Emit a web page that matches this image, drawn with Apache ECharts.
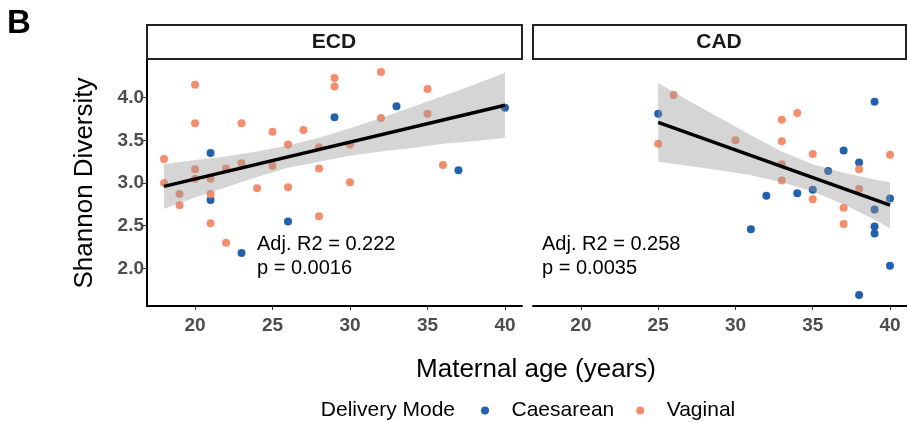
<!DOCTYPE html>
<html>
<head>
<meta charset="utf-8">
<script src="https://cdn.jsdelivr.net/npm/echarts@6/dist/echarts.min.js"></script>
<style>
html, body { margin: 0; padding: 0; background: #fff; }
#chart { width: 907px; height: 422px; }
</style>
</head>
<body>
<div id="chart"></div>
<script>
// ECD panel
var ecdVagAge = [18, 18, 19, 19, 20, 20, 20, 20, 21, 21, 21, 22, 22, 23, 23, 24, 25, 25, 26, 26, 27, 28, 28, 28, 29, 29, 30, 30, 32, 32, 35, 35, 36];
var ecdVagDiv = [3.28, 3.00, 2.87, 2.74, 4.15, 3.70, 3.16, 3.05, 3.05, 2.87, 2.53, 3.17, 2.30, 3.70, 3.23, 2.94, 3.60, 3.20, 3.45, 2.95, 3.62, 3.42, 3.17, 2.61, 4.23, 4.13, 3.45, 3.01, 4.30, 3.76, 4.10, 3.81, 3.21];
var ecdCaeAge = [21, 21, 23, 26, 29, 33, 37, 40];
var ecdCaeDiv = [3.35, 2.80, 2.18, 2.55, 3.77, 3.90, 3.15, 3.88];
var ecdFitAge = [18, 40];
var ecdFitDiv = [2.96, 3.91];
var ecdBandAge = [18, 20, 22, 24, 26, 28, 30, 32, 34, 36, 38, 40];
var ecdBandLow = [2.70, 2.83, 2.95, 3.07, 3.18, 3.25, 3.32, 3.37, 3.41, 3.46, 3.49, 3.53];
var ecdBandHigh = [3.22, 3.27, 3.31, 3.37, 3.44, 3.53, 3.64, 3.76, 3.89, 4.02, 4.15, 4.29];

// CAD panel
var cadCaeAge = [25, 39, 37, 38, 36, 35, 34, 32, 40, 39, 31, 39, 39, 40, 38];
var cadCaeDiv = [3.81, 3.95, 3.38, 3.24, 3.14, 2.92, 2.88, 2.85, 2.82, 2.69, 2.46, 2.49, 2.41, 2.03, 1.69];
var cadVagAge = [26, 25, 30, 33, 34, 33, 33, 33, 35, 35, 37, 37, 38, 38, 40];
var cadVagDiv = [4.03, 3.46, 3.50, 3.74, 3.82, 3.49, 3.22, 3.03, 3.34, 2.81, 2.71, 2.52, 3.16, 2.93, 3.33];
var cadFitAge = [25, 40];
var cadFitDiv = [3.71, 2.74];
var cadBandAge = [25, 27, 29, 31, 33, 35, 37, 39, 40];
var cadBandLow = [3.25, 3.20, 3.15, 3.09, 3.01, 2.90, 2.75, 2.57, 2.47];
var cadBandHigh = [4.17, 3.96, 3.76, 3.56, 3.37, 3.22, 3.12, 3.04, 3.01];

var xTicks = [20, 25, 30, 35, 40];
var yTicks = [2.0, 2.5, 3.0, 3.5, 4.0];
var panelNames = ['ECD', 'CAD'];
var statText = ['Adj. R2 = 0.222\np = 0.0016', 'Adj. R2 = 0.258\np = 0.0035'];

var BLUE = '#2161ad';
var SALMON = '#f48d6c';
var FONT = 'Liberation Sans, Arial, sans-serif';

var zip = function(a, b) {
	return a.map(function(v, i) { return [v, b[i]]; });
};

var scatter = function(name, idx, ages, divs, color) {
	return {
		name: name,
		type: 'scatter',
		xAxisIndex: idx,
		yAxisIndex: idx,
		symbolSize: 8,
		itemStyle: { color: color, opacity: 1 },
		z: 2,
		data: zip(ages, divs)
	};
};

// 置信区间带
var band = function(idx, ages, low, high) {
	return {
		type: 'custom',
		xAxisIndex: idx,
		yAxisIndex: idx,
		z: 3,
		silent: true,
		data: [[ages[0], low[0]]],
		renderItem: function(params, api) {
			var pts = [];
			for (var i = 0; i < ages.length; i++) pts.push(api.coord([ages[i], high[i]]));
			for (var j = ages.length - 1; j >= 0; j--) pts.push(api.coord([ages[j], low[j]]));
			return {
				type: 'polygon',
				shape: { points: pts },
				style: { fill: 'rgba(150,150,150,0.4)', stroke: null }
			};
		}
	};
};

var fit = function(idx, ages, divs) {
	return {
		type: 'line',
		xAxisIndex: idx,
		yAxisIndex: idx,
		z: 4,
		symbol: 'none',
		silent: true,
		lineStyle: { color: '#000', width: 3.5 },
		data: zip(ages, divs)
	};
};

var xAxisFor = function(idx) {
	return {
		type: 'value',
		gridIndex: idx,
		min: 16.9,
		max: 41.1,
		splitLine: { show: false },
		axisLine: { show: true, onZero: false, lineStyle: { color: '#000', width: 2 } },
		axisTick: { show: true, customValues: xTicks, length: 4, lineStyle: { color: '#333' } },
		axisLabel: {
			customValues: xTicks, margin: 10,
			color: '#4d4d4d', fontWeight: 'bold', fontSize: 19, fontFamily: FONT
		}
	};
};

var chart = echarts.init(document.getElementById('chart'));

var option = {
	animation: false,
	textStyle: { fontFamily: FONT },
	grid: [
		{ left: 147, top: 60, width: 375, height: 246 },
		{ left: 533, top: 60, width: 374, height: 246 }
	],
	xAxis: [xAxisFor(0), xAxisFor(1)],
	yAxis: [{
		type: 'value',
		gridIndex: 0,
		min: 1.56,
		max: 4.44,
		name: 'Shannon Diversity',
		nameLocation: 'middle',
		nameGap: 49,
		nameTextStyle: { fontSize: 26, color: '#000', fontFamily: FONT },
		splitLine: { show: false },
		axisLine: { show: true, lineStyle: { color: '#000', width: 2 } },
		axisTick: { show: true, customValues: yTicks, length: 5, lineStyle: { color: '#333' } },
		axisLabel: {
			customValues: yTicks, margin: 3,
			color: '#4d4d4d', fontWeight: 'bold', fontSize: 19, fontFamily: FONT,
			formatter: function(v) { return v.toFixed(1); }
		}
	}, {
		type: 'value',
		gridIndex: 1,
		min: 1.56,
		max: 4.44,
		splitLine: { show: false },
		axisLine: { show: false },
		axisTick: { show: false },
		axisLabel: { show: false }
	}],
	legend: {
		data: ['Caesarean', 'Vaginal'],
		left: 476,
		top: 395,
		icon: 'circle',
		itemWidth: 8,
		itemHeight: 8,
		itemGap: 22,
		formatter: function(name) { return '   ' + name; },
		textStyle: { fontSize: 21, color: '#000', fontFamily: FONT }
	},
	graphic: [
		{ type: 'text', left: 7, top: 7, style: { text: 'B', fontSize: 33, fontWeight: 'bold', fill: '#000', fontFamily: FONT } },
		{ type: 'rect', shape: { x: 147, y: 25, width: 375, height: 34 }, style: { fill: '#fff', stroke: '#222', lineWidth: 2 } },
		{ type: 'rect', shape: { x: 533, y: 25, width: 373, height: 34 }, style: { fill: '#fff', stroke: '#222', lineWidth: 2 } },
		{ type: 'text', x: 334, y: 42, style: { text: panelNames[0], fontSize: 21, fontWeight: 'bold', fill: '#1a1a1a', align: 'center', verticalAlign: 'middle', fontFamily: FONT } },
		{ type: 'text', x: 719, y: 42, style: { text: panelNames[1], fontSize: 21, fontWeight: 'bold', fill: '#1a1a1a', align: 'center', verticalAlign: 'middle', fontFamily: FONT } },
		{ type: 'text', x: 257, y: 232, z: 10, style: { text: statText[0], fontSize: 20, lineHeight: 24, fill: '#000', fontFamily: FONT } },
		{ type: 'text', x: 542, y: 232, z: 10, style: { text: statText[1], fontSize: 20, lineHeight: 24, fill: '#000', fontFamily: FONT } },
		{ type: 'text', x: 536, y: 370, style: { text: 'Maternal age (years)', fontSize: 26, fill: '#000', align: 'center', verticalAlign: 'middle', fontFamily: FONT } },
		{ type: 'text', x: 455, y: 410, style: { text: 'Delivery Mode', fontSize: 21, fill: '#000', align: 'right', verticalAlign: 'middle', fontFamily: FONT } }
	],
	series: [
		scatter('Caesarean', 0, ecdCaeAge, ecdCaeDiv, BLUE),
		scatter('Vaginal', 0, ecdVagAge, ecdVagDiv, SALMON),
		band(0, ecdBandAge, ecdBandLow, ecdBandHigh),
		fit(0, ecdFitAge, ecdFitDiv),
		scatter('Caesarean', 1, cadCaeAge, cadCaeDiv, BLUE),
		scatter('Vaginal', 1, cadVagAge, cadVagDiv, SALMON),
		band(1, cadBandAge, cadBandLow, cadBandHigh),
		fit(1, cadFitAge, cadFitDiv)
	]
};

chart.setOption(option);
</script>
</body>
</html>
